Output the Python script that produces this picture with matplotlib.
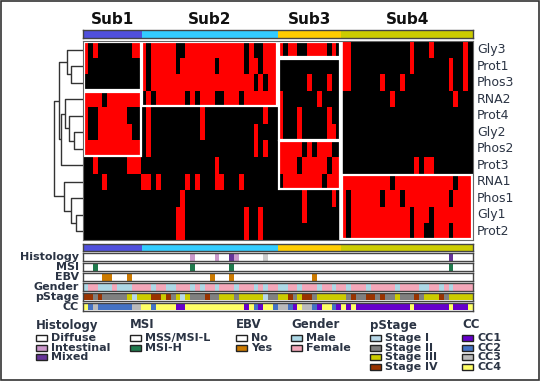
import numpy as np
import matplotlib
matplotlib.use('Agg')
import matplotlib.pyplot as plt
from matplotlib.colors import ListedColormap, to_rgb
from matplotlib.patches import Rectangle

# ---- data ----
features = ['Gly3', 'Prot1', 'Phos3', 'RNA2', 'Prot4', 'Gly2',
            'Phos2', 'Prot3', 'RNA1', 'Phos1', 'Gly1', 'Prot2']
subtypes = ['Sub1', 'Sub2', 'Sub3', 'Sub4']
sub_sizes = [12, 28, 13, 27]
sub_colors = ['#5050DD', '#33CCFF', '#FFCC00', '#CCCC00']

# 1 = red, 0 = black; one string per subtype (spaces only for reading)
heat = {
    'Gly3':  ['101000000011', '1 0 11111 00 111111 111111 0 1 00 111', '1011001111010', '110000000 000001000 100000010'],
    'Prot1': ['100000000000', '1 0 11111 0 1111111 0 11111 0 11 0 111', '0000000000000', '110000000 000001000 000010010'],
    'Phos3': ['000000000000', '1 0 1111111111 1111111111 1 0 1 0 11', '0000001000100', '110000001 000100000 000010010'],
    'RNA2':  ['111101111111', '0 1 0 111111 0 1 0 111 00 111 0 1111111', '1000000010000', '000000000 010000000 000001000'],
    'Prot4': ['100111111000', '0100 0000 0000 1000 0000 0000 0100', '1000100000100', '000000000 000000000 000000000'],
    'Gly2':  ['100111111100', '0100 0000 0000 1000 0000 0001 0000', '1000100000110', '000000000 000000000 000000000'],
    'Phos2': ['111111111111', '0100 0000 0000 0000 0000 0001 0100', '1111101011100', '000000000 000000000 000000000'],
    'Prot3': ['001000000111', '0000 0000 0000 0001 0000 0000 0000', '1111011111011', '000000000 000000101 100000000'],
    'RNA1':  ['000010000000', '1101 0000 0101 0001 1000 1000 0000', '0111111110111', '111111111 101111111 111110111'],
    'Phos1': ['000000000000', '0000 0000 1000 0000 0000 0000 0000', '0000010000010', '101111110 111011111 111101111'],
    'Gly1':  ['000000000000', '0000 0001 1000 0000 0000 0100 1000', '0000010000000', '101111111 111110111 011111111'],
    'Prot2': ['000000000000', '0000 0001 1000 0000 0000 0100 1000', '0000000000000', '101111111 111110110 011101111'],
}

# white boxes: (subtype, first row, last row + 1)
boxes = [('Sub1', 0, 3), ('Sub1', 3, 7), ('Sub2', 0, 4),
         ('Sub3', 0, 1), ('Sub3', 1, 6), ('Sub3', 6, 9), ('Sub4', 8, 12)]

# row dendrogram: (left node, right node, height)
merges = [(1, 2, 10.8), (0, 12, 14.0), (5, 6, 8.1), (4, 14, 12.6),
          (3, 15, 16.2), (16, 7, 19.8), (13, 17, 21.6), (10, 11, 6.3),
          (9, 19, 10.8), (8, 20, 17.1), (18, 21, 26.5)]

# column annotations
histology = ['DDDDDDDDDDDD', 'DDDDDDDDDD I DDDD I DD M I DDDDD N DD', 'DDDDDDDDDDDDD', 'DDDDDDDDDD DDDDDDDDDDDD M DDDD']
msi = ['SSHSSSSSSSSS', 'SSSSSSSSSS H SSSSSSS H SSSSSSSSS', 'SSSSSSSSSSSSS', 'SSSSSSSSSS SSSSSSSSSSSS H SSSS']
ebv = ['NNNNYYNNNYNN', 'NNNNNNNNNNNNNN Y NNN Y NNNNNNNNN', 'NNNNNNN Y NNNNN', 'NNNNNNNNN NNNNNNNNN NNNNNNNNN']
gender = ['MFFMMMFMMMFF', 'FFMFFMMFFF MFMFFMFFFM FFFMFMFF', 'MMFFMFFFMFFMF', 'FMFFFMFFFF FMFFFFMMFF MFMFFFF']
pstage = ['442422222313', '3344342313 2224223332 33333122', '3342344233333', '3242244242 2322242333 4233333']
cc = ['423222222233', '44 2 4444 11 444444 444444 1 4 2 1 44 2', '3321433214421', '4 1 4 11111 111111 4 1111111 4 111 4']

hist_colors = {'D': 'white', 'I': '#CC99CC', 'M': '#663399', 'N': '#CCCCCC'}
msi_colors = {'S': 'white', 'H': '#1F7A4D'}
ebv_colors = {'N': 'white', 'Y': '#CC7A00'}
gender_colors = {'M': '#ADD8E6', 'F': '#F4A7B9'}
stage_colors = {'1': '#B8D8E8', '2': '#808080', '3': '#CCCC00', '4': '#993300'}
cc_colors = {'1': '#6600CC', '2': '#4472C4', '3': '#BBBBBB', '4': '#FFFF66'}

annotations = [('Histology', histology, hist_colors), ('MSI', msi, msi_colors),
               ('EBV', ebv, ebv_colors), ('Gender', gender, gender_colors),
               ('pStage', pstage, stage_colors), ('CC', cc, cc_colors)]

legend_groups = [
    ('Histology', ['Diffuse', 'Intestinal', 'Mixed'], [hist_colors[k] for k in 'DIM']),
    ('MSI', ['MSS/MSI-L', 'MSI-H'], [msi_colors[k] for k in 'SH']),
    ('EBV', ['No', 'Yes'], [ebv_colors[k] for k in 'NY']),
    ('Gender', ['Male', 'Female'], [gender_colors[k] for k in 'MF']),
    ('pStage', ['Stage I', 'Stage II', 'Stage III', 'Stage IV'], [stage_colors[k] for k in '1234']),
    ('CC', ['CC1', 'CC2', 'CC3', 'CC4'], [cc_colors[k] for k in '1234']),
]


def clean(parts):
    return ''.join(parts).replace(' ', '')


n_cols = sum(sub_sizes)
starts = np.concatenate([[0], np.cumsum(sub_sizes)[:-1]])
sub_start = dict(zip(subtypes, starts))
sub_len = dict(zip(subtypes, sub_sizes))

# ---- layout (pixels) ----
W, H = 540, 381
fig = plt.figure(figsize=(W / 100, H / 100), dpi=100)
txt_col = '#2b3444'
HM_L, HM_R, HM_T, HM_B = 83, 473, 41.3, 239.7


def px_axes(x0, y0, x1, y1):
    return fig.add_axes([x0 / W, 1 - y1 / H, (x1 - x0) / W, (y1 - y0) / H])


def frame(ax, color='#444444', lw=1.0):
    ax.set_xticks([])
    ax.set_yticks([])
    for s in ax.spines.values():
        s.set_color(color)
        s.set_linewidth(lw)


def sub_bar(ax):
    ax.barh(0, sub_sizes, left=starts, height=1, color=sub_colors, align='edge')
    ax.set_xlim(0, n_cols)
    ax.set_ylim(0, 1)
    frame(ax)


# top subtype bar + titles
ax_top = px_axes(HM_L, 30, HM_R, 38)
sub_bar(ax_top)
for name, s, n in zip(subtypes, starts, sub_sizes):
    ax_top.text(s + n / 2, 2.25, name, ha='center', va='center',
                fontsize=11, fontweight='bold', color='#111111', clip_on=False)

# heatmap
mat = np.array([[int(ch) for ch in clean(heat[f])] for f in features])
ax_hm = px_axes(HM_L, HM_T, HM_R, HM_B)
ax_hm.imshow(mat, cmap=ListedColormap(['black', '#FF0000']), vmin=0, vmax=1,
             aspect='auto', interpolation='nearest', extent=(0, n_cols, len(features), 0))
frame(ax_hm, '#666666', 0.8)
for sub, r0, r1 in boxes:
    c0 = sub_start[sub]
    ax_hm.add_patch(Rectangle((c0 + 0.2, r0 + 0.06), sub_len[sub] - 0.4, r1 - r0 - 0.12,
                              fill=False, ec='white', lw=1.6))
ax_hm.axvline(sub_start['Sub4'], color='white', lw=2.6)
for i, f in enumerate(features):
    ax_hm.text(n_cols + 0.8, i + 0.5, f, ha='left', va='center',
               fontsize=9, color=txt_col, clip_on=False)

# dendrogram
ax_d = px_axes(52, HM_T, HM_L, HM_B)
pos = {i: i + 0.5 for i in range(len(features))}
hgt = {i: 0.0 for i in range(len(features))}
for k, (a, b, h) in enumerate(merges):
    ax_d.plot([hgt[a], h, h, hgt[b]], [pos[a], pos[a], pos[b], pos[b]],
              color='#333333', lw=1.0, solid_capstyle='butt')
    nid = len(features) + k
    pos[nid] = (pos[a] + pos[b]) / 2
    hgt[nid] = h
ax_d.set_xlim(27.9, 0)
ax_d.set_ylim(len(features), 0)
ax_d.axis('off')

# bottom subtype bar
ax_bot = px_axes(HM_L, 244, HM_R, 251)
sub_bar(ax_bot)

# annotation rows
row_top = [253, 263, 272.5, 282.5, 292.5, 302.5]
for (name, parts, cmap), y0 in zip(annotations, row_top):
    codes = clean(parts)
    rgb = np.array([[to_rgb(cmap[c]) for c in codes]])
    ax = px_axes(HM_L, y0, HM_R, y0 + 8)
    ax.imshow(rgb, aspect='auto', interpolation='nearest', extent=(0, n_cols, 1, 0))
    frame(ax)
    ax.text(-0.8, 0.5, name, ha='right', va='center', fontsize=8,
            fontweight='bold', color=txt_col, clip_on=False)

# legends + outer frame, drawn in pixel coordinates
ov = fig.add_axes([0, 0, 1, 1])
ov.set_xlim(0, W)
ov.set_ylim(H, 0)
ov.axis('off')
ov.patch.set_alpha(0)
legend_x = [36, 130, 236, 291, 370, 462]
for (title, labels, cols), x in zip(legend_groups, legend_x):
    ov.text(x, 325, title, ha='left', va='center', fontsize=8.5,
            fontweight='bold', color=txt_col)
    for i, (lab, c) in enumerate(zip(labels, cols)):
        y = 338 + 9.7 * i
        ov.add_patch(Rectangle((x, y - 3), 11, 6, fc=c, ec='#222222', lw=1))
        ov.text(x + 15, y, lab, ha='left', va='center', fontsize=8,
                fontweight='bold', color=txt_col)
ov.add_patch(Rectangle((0.75, 0.75), W - 1.5, H - 1.5, fill=False, ec='#333333', lw=1.2))

fig.savefig('out.png', dpi=100)
